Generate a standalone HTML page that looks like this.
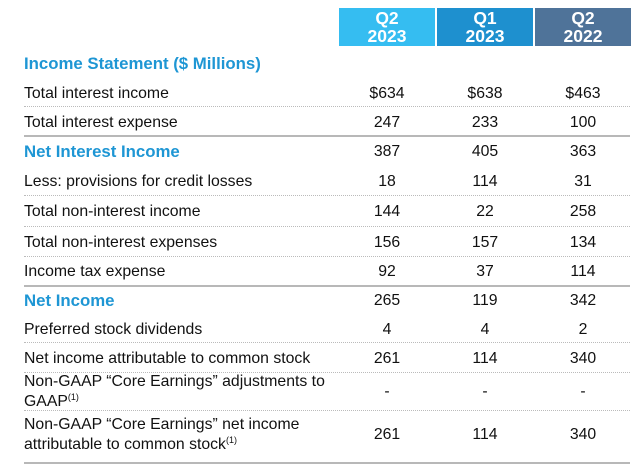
<!DOCTYPE html>
<html><head><meta charset="utf-8">
<style>
body{margin:0;width:640px;height:466px;background:#fff;overflow:hidden;font-family:"Liberation Sans",sans-serif;}
#t{position:relative;width:640px;height:466px;}
.h{position:absolute;top:8px;height:38px;width:96px;color:#fff;font-weight:bold;font-size:17.5px;line-height:18px;text-align:center;box-sizing:border-box;display:flex;flex-direction:column;justify-content:center;}
.lab{position:absolute;left:24px;font-size:15.8px;color:#111;line-height:20px;white-space:nowrap;}
.lab.b{color:#1e96d4;font-weight:bold;font-size:16.8px;}
.v{position:absolute;width:96px;text-align:center;font-size:15.8px;color:#111;line-height:20px;}
.ln{position:absolute;left:24px;width:606px;height:0;}
.d{border-top:1px dotted #bbb;}
.s{border-top:2px solid #b8b8b8;}
sup{font-size:9px;line-height:0;vertical-align:6px;}
</style></head><body>
<div id="t">
<div class="h" style="left:339px;background:#35bdf1">Q2<br>2023</div>
<div class="h" style="left:437px;background:#1e90cf">Q1<br>2023</div>
<div class="h" style="left:535px;background:#4f7399">Q2<br>2022</div>
<div class="lab b" style="top:54px">Income Statement ($ Millions)</div>
</div>
<script>
const labels=["Total interest income","Total interest expense","Net Interest Income","Less: provisions for credit losses","Total non-interest income","Total non-interest expenses","Income tax expense","Net Income","Preferred stock dividends","Net income attributable to common stock","Non-GAAP “Core Earnings” adjustments to<br>GAAP<sup>(1)</sup>","Non-GAAP “Core Earnings” net income<br>attributable to common stock<sup>(1)</sup>"];
const boldRows=[2,7];
const q2_2023=["$634","247","387","18","144","156","92","265","4","261","-","261"];
const q1_2023=["$638","233","405","114","22","157","37","119","4","114","-","114"];
const q2_2022=["$463","100","363","31","258","134","114","342","2","340","-","340"];
const rowY=[94,123,152,182,212,243,272,301,330,359,392,435];
const lines=[[106,"d"],[135,"s"],[195,"d"],[226,"d"],[256,"d"],[285,"s"],[342,"d"],[372,"d"],[410,"d"],[462,"s"]];
const t=document.getElementById('t');
const colX=[339,437,535];
labels.forEach((l,i)=>{
  const two=l.includes('<br>');
  const d=document.createElement('div');
  d.className='lab'+(boldRows.includes(i)?' b':'');
  d.innerHTML=l;
  d.style.top=(rowY[i]-(two?20:10))+'px';
  
  
  t.appendChild(d);
  [q2_2023,q1_2023,q2_2022].forEach((arr,c)=>{
    const v=document.createElement('div');
    v.className='v';
    v.textContent=arr[i];
    v.style.left=colX[c]+'px';
    v.style.top=(rowY[i]-10)+'px';
    
    
    t.appendChild(v);
  });
});
lines.forEach(([y,k])=>{
  const e=document.createElement('div');
  e.className='ln '+k;
  e.style.top=y+'px';
  
  
  t.appendChild(e);
});
</script>
</body></html>
